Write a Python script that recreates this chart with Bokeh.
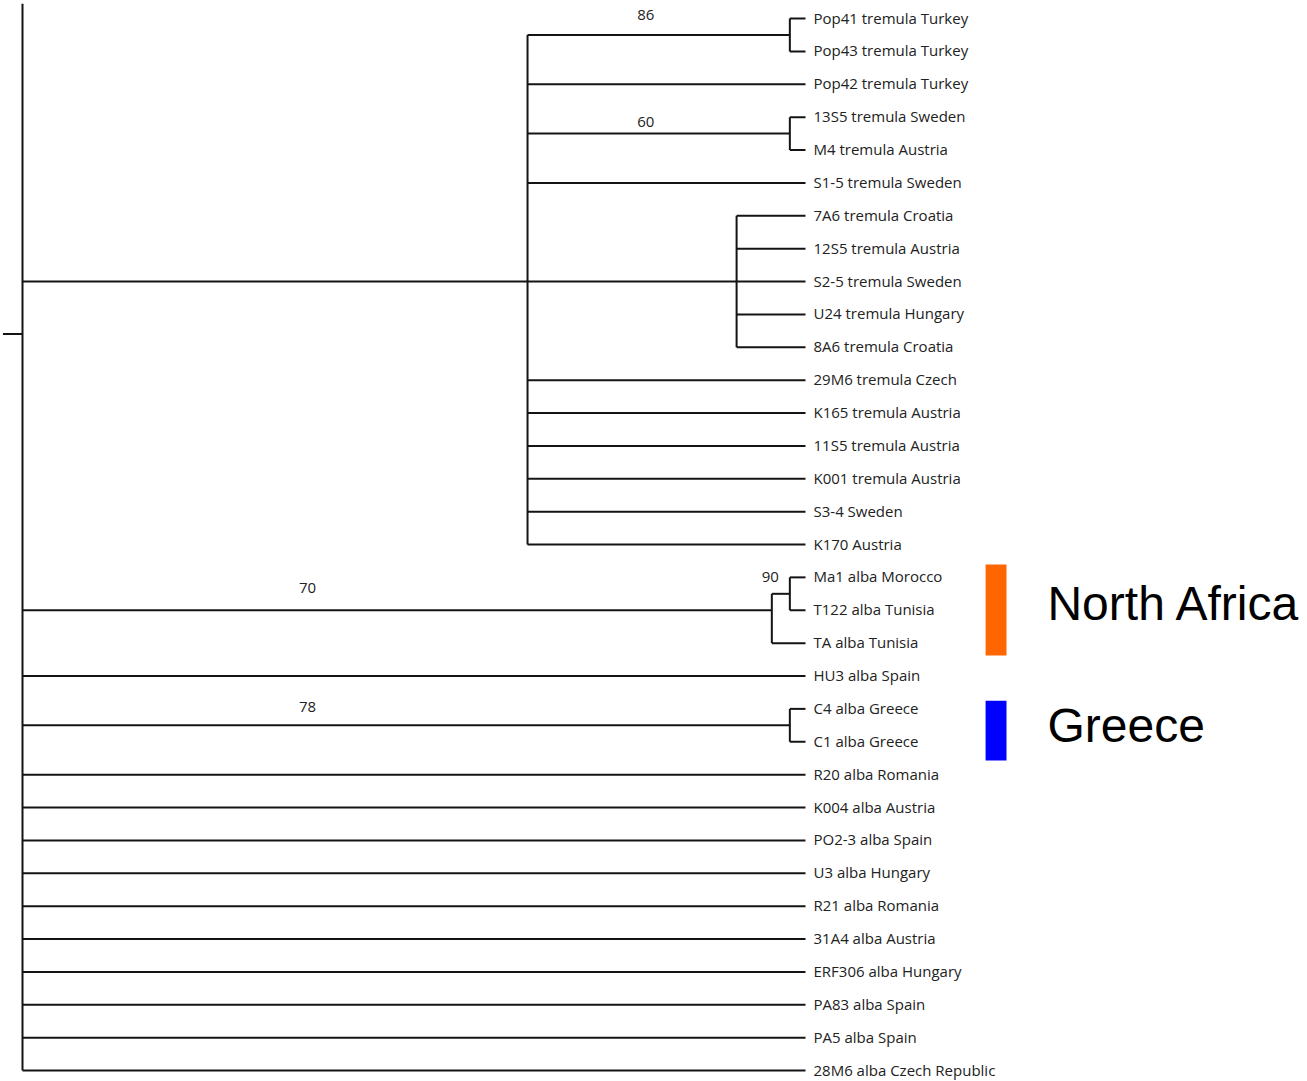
from bokeh.plotting import figure
from bokeh.models import Range1d, ColumnDataSource
from bokeh.core.properties import value
from bokeh.embed import file_html
from bokeh.resources import INLINE

# ---------------- data ----------------
leaf_names = [
    "Pop41 tremula Turkey", "Pop43 tremula Turkey", "Pop42 tremula Turkey",
    "13S5 tremula Sweden", "M4 tremula Austria", "S1-5 tremula Sweden",
    "7A6 tremula Croatia", "12S5 tremula Austria", "S2-5 tremula Sweden",
    "U24 tremula Hungary", "8A6 tremula Croatia", "29M6 tremula Czech",
    "K165 tremula Austria", "11S5 tremula Austria", "K001 tremula Austria",
    "S3-4 Sweden", "K170 Austria", "Ma1 alba Morocco", "T122 alba Tunisia",
    "TA alba Tunisia", "HU3 alba Spain", "C4 alba Greece", "C1 alba Greece",
    "R20 alba Romania", "K004 alba Austria", "PO2-3 alba Spain",
    "U3 alba Hungary", "R21 alba Romania", "31A4 alba Austria",
    "ERF306 alba Hungary", "PA83 alba Spain", "PA5 alba Spain",
    "28M6 alba Czech Republic",
]
leaf_parent = (["c86", "c86", "tremula", "c60", "c60", "tremula"]
               + ["poly"] * 5
               + ["tremula"] * 6
               + ["c90", "c90", "c70", "root", "c78", "c78"]
               + ["root"] * 10)
leaf_depth = 100.0

node_ids = ["root", "tremula", "c86", "c60", "poly", "c70", "c90", "c78"]
node_parent = [None, "root", "tremula", "tremula", "tremula", "root", "c70", "root"]
node_depth = [0.0, 64.5, 98.0, 98.0, 91.2, 95.7, 98.0, 98.0]
node_support = [None, None, "86", "60", None, "70", "90", "78"]

group_names = ["North Africa", "Greece"]
group_colors = ["#FF6600", "#0000FF"]
group_top = [16.61, 20.75]
group_bottom = [19.38, 22.57]

# ---------------- layout params ----------------
support_x = {"c86": 79.6, "c60": 79.6, "c70": 36.4, "c90": 95.5, "c78": 36.4}
support_dy = {"c86": -20, "c60": -12, "c70": -22, "c90": -17, "c78": -18}
root_top = -0.45
stub_y = 9.6
stub_left = -2.5
LINE = "#141414"
TXT = "#222222"

# ---------------- tree geometry ----------------
depth = dict(zip(node_ids, node_depth))
parent = dict(zip(node_ids, node_parent))
n_leaves = len(leaf_names)

def leaves_under(nid):
    out = [i for i, p in enumerate(leaf_parent) if p == nid]
    for c, p in zip(node_ids, node_parent):
        if p == nid:
            out += leaves_under(c)
    return out

node_y = {}
for nid in node_ids:
    lv = leaves_under(nid)
    node_y[nid] = (min(lv) + max(lv)) / 2.0

x0s, y0s, x1s, y1s = [], [], [], []
for i, p in enumerate(leaf_parent):
    x0s.append(depth[p]); x1s.append(leaf_depth); y0s.append(i); y1s.append(i)
for nid in node_ids:
    p = parent[nid]
    if p is not None:
        x0s.append(depth[p]); x1s.append(depth[nid])
        y0s.append(node_y[nid]); y1s.append(node_y[nid])
for nid in node_ids:
    ys = [i for i, p in enumerate(leaf_parent) if p == nid]
    ys += [node_y[c] for c, p in zip(node_ids, node_parent) if p == nid]
    top = min(ys) if nid != "root" else root_top
    x0s.append(depth[nid]); x1s.append(depth[nid]); y0s.append(top); y1s.append(max(ys))
x0s.append(stub_left); x1s.append(0.0); y0s.append(stub_y); y1s.append(stub_y)

# ---------------- figure ----------------
W, H = 1307, 1081
px_per_unit = 7.83
xs = -22 / px_per_unit
spacing = 32.875
ytop = -18 / spacing
ybot = (H - 18) / spacing

p = figure(width=W, height=H, output_backend="svg", toolbar_location=None,
           x_axis_type=None, y_axis_type=None,
           x_range=Range1d(xs, xs + W / px_per_unit),
           y_range=Range1d(ybot, ytop),
           min_border=0, min_border_left=0, min_border_right=0,
           min_border_top=0, min_border_bottom=0)
p.outline_line_color = None
p.grid.visible = False
p.background_fill_color = "white"
p.border_fill_color = "white"

p.segment(x0=x0s, y0=y0s, x1=x1s, y1=y1s, line_color=LINE, line_width=2)

p.text(x=[leaf_depth] * n_leaves, y=list(range(n_leaves)), text=leaf_names,
       x_offset=8, y_offset=-1, text_font=value("Open Sans"), text_font_size="15px",
       text_baseline="middle", text_align="left", text_color=TXT)

sx, sy, st, sdy = [], [], [], []
for nid, s in zip(node_ids, node_support):
    if s is not None:
        sx.append(support_x[nid]); sy.append(node_y[nid]); st.append(s); sdy.append(support_dy[nid])
p.text(x="x", y="y", text="t", y_offset="dy",
       source=ColumnDataSource(dict(x=sx, y=sy, t=st, dy=sdy)),
       text_font=value("Open Sans"), text_font_size="15px",
       text_baseline="middle", text_align="center", text_color=TXT)

p.quad(left=[123.0] * 2, right=[125.67] * 2, top=group_top, bottom=group_bottom,
       fill_color=group_colors, line_color=None)
p.text(x=[130.9] * 2, y=[17.8, 21.5], text=group_names,
       text_font=value("Liberation Sans"), text_font_size="48px",
       text_baseline="middle", text_align="left", text_color="black")

open("out.html", "w").write(file_html(p, INLINE))
